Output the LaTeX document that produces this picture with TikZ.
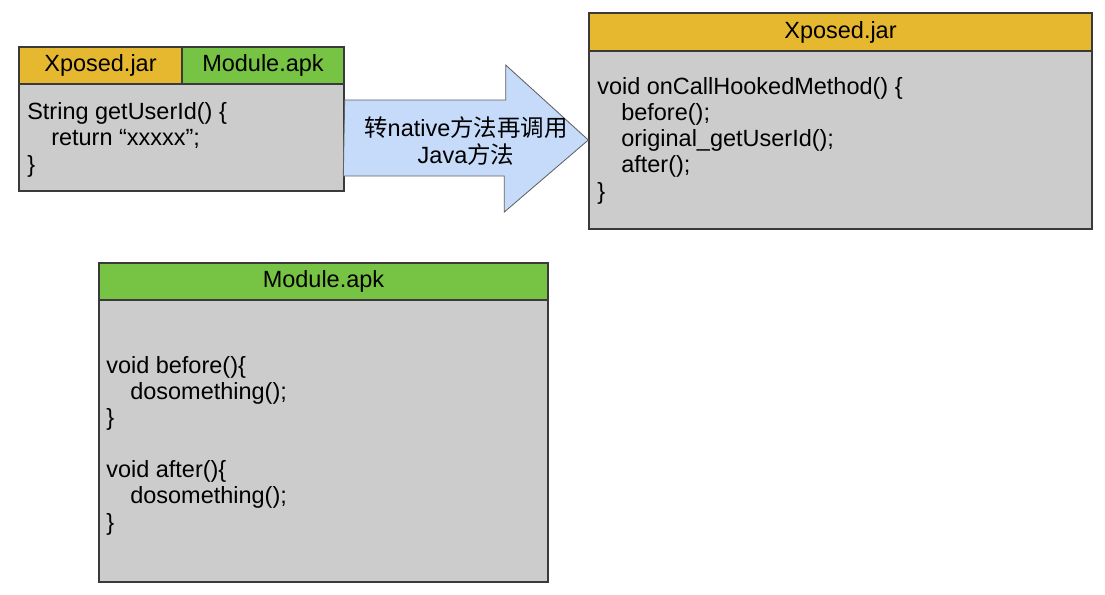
\documentclass[tikz,border=0pt]{standalone}
\usepackage{fontspec}
\setmainfont{Liberation Sans}
\newfontfamily\cjk{Noto Sans CJK SC}
\usetikzlibrary{positioning}

\definecolor{jaryellow}{HTML}{E6B830}
\definecolor{apkgreen}{HTML}{77C343}
\definecolor{codegray}{HTML}{CCCCCC}
\definecolor{hookblue}{HTML}{C6DAF9}
\definecolor{framegray}{HTML}{3A3A3A}

\newcommand{\codefont}{\fontsize{16.7}{18.6}\selectfont}
\newcommand{\ind}{\hspace*{0.6cm}}

\begin{document}
\begin{tikzpicture}[x=0.025cm, y=-0.025cm,
    box/.style={draw=framegray, line width=0.9pt, inner sep=0pt, font=\codefont},
    code/.style={anchor=base west, align=left, inner sep=0pt, font=\codefont}]
    \useasboundingbox (0,0) rectangle (1105,594);

    % Original method, before hooking (code nodes sit on their last baseline)
    \node[box, fill=codegray, minimum width=8.125cm, minimum height=2.675cm] (srcbody) at (181.5,137.5) {};
    \node[box, fill=jaryellow, minimum width=4.075cm, minimum height=0.925cm] (srcjar) at (100.5,65.5) {Xposed.jar};
    \node[box, fill=apkgreen, minimum width=4.05cm, minimum height=0.925cm] (srcapk) at (263,65.5) {Module.apk};
    \node[code] (srccode) at (27,172) {String getUserId() \{\\ \ind return “xxxxx”;\\ \}};

    % Hook in Xposed.jar
    \node[box, fill=codegray, minimum width=12.575cm, minimum height=4.45cm] (dstbody) at (840.5,140) {};
    \node[box, fill=jaryellow, minimum width=12.575cm, minimum height=0.95cm] (dstjar) at (840.5,32) {Xposed.jar};
    \node[code] (dstcode) at (597,199) {void onCallHookedMethod() \{\\ \ind before();\\ \ind original\_getUserId();\\ \ind after();\\ \}};

    % Big arrow between the two
    \draw[draw=framegray!80, fill=hookblue, line width=0.6pt]
        (srcbody.east) ++(0,-37.5) -- ++(161,0) -- ++(0,-35) -- (dstbody.west)
        -- ++(-84,72) -- ++(0,-36) -- ++(-161,0) -- cycle;
    \node[align=center, font=\codefont, inner sep=0pt] (hooklabel) at (466,141)
        {{\cjk 转}native{\cjk 方法再调用}\\ Java{\cjk 方法}};

    % Callbacks in Module.apk
    \node[box, fill=codegray, minimum width=11.225cm, minimum height=7.05cm] (modbody) at (323.5,441) {};
    \node[box, fill=apkgreen, minimum width=11.225cm, minimum height=0.925cm] (modapk) at (323.5,281.5) {Module.apk};
    \node[code] (modcode) at (106,530) {void before()\{\\ \ind dosomething();\\ \}\\[18.6pt] void after()\{\\ \ind dosomething();\\ \}};
\end{tikzpicture}
\end{document}
